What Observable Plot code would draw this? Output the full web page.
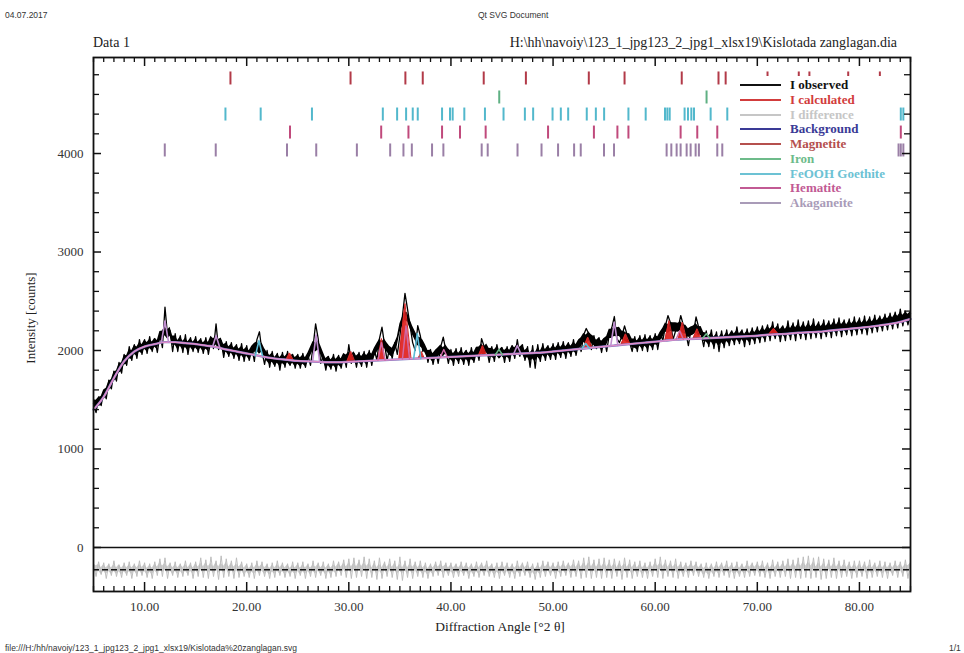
<!DOCTYPE html>
<html><head><meta charset="utf-8">
<script src="https://cdn.jsdelivr.net/npm/d3@7"></script>
<script src="https://cdn.jsdelivr.net/npm/@observablehq/plot@0.6"></script>
<style>
html,body{margin:0;padding:0;background:#fff;width:964px;height:653px;overflow:hidden;}
#wrap{position:relative;width:964px;height:653px;}
#chart{position:absolute;left:0;top:0;}
.t{position:absolute;white-space:nowrap;line-height:1;}
.sans{font-family:"Liberation Sans",Arial,sans-serif;color:#333;}
.serif{font-family:"Liberation Serif","Times New Roman",serif;color:#222;}
#legend{position:absolute;left:733px;top:76px;width:164px;height:139px;background:#fff;}
.li{position:absolute;left:0;height:14px;}
.li .ln{position:absolute;left:7px;top:6px;width:41px;height:2px;}
.li .tx{position:absolute;left:57px;top:0;font-family:"Liberation Serif",serif;font-size:13px;font-weight:bold;line-height:14px;white-space:nowrap;}
</style></head><body>
<div id="wrap">
<div id="chart"></div>
<div class="t sans" style="left:5px;top:11px;font-size:8.5px">04.07.2017</div>
<div class="t sans" style="left:478px;top:11px;font-size:8.5px">Qt SVG Document</div>
<div class="t serif" style="left:93px;top:36px;font-size:14px">Data 1</div>
<div class="t serif" style="right:67px;top:36px;font-size:14px">H:\hh\navoiy\123_1_jpg123_2_jpg1_xlsx19\Kislotada zanglagan.dia</div>
<div class="t serif" style="top:318px;font-size:13px;transform:translate(-50%,-50%) rotate(-90deg);transform-origin:50% 50%;left:30px;">Intensity [counts]</div>
<div class="t serif" style="left:500px;top:620px;font-size:13.5px;transform:translateX(-50%);">Diffraction Angle [°2 θ]</div>
<div class="t sans" style="left:5px;top:644px;font-size:8.5px">file:///H:/hh/navoiy/123_1_jpg123_2_jpg1_xlsx19/Kislotada%20zanglagan.svg</div>
<div class="t sans" style="left:949px;top:644px;font-size:8.5px">1/1</div>
<div id="legend"></div>
</div>
<script>
// ---------- DATA ----------
const observedStart = 5, observedStep = 0.25;
const observedCounts = [
1460,1370,1530,1440,1590,1510,1700,1610,1790,1690,1880,1770,1960,1850,2040,1900,2060,1920,2110,1960,
2110,1970,2140,1990,2120,1980,2160,2030,2440,2150,2200,1990,2170,1990,2150,1980,2160,1960,2130,1990,
2140,1980,2120,1970,2130,1960,2110,2020,2270,2010,2100,1930,2090,1940,2080,1920,2060,1900,2070,1890,
2050,1900,2030,1890,2110,2190,1990,1860,2000,1830,1990,1840,1970,1800,1980,1830,1990,1850,1960,1820,
1960,1820,1970,1830,1950,1850,2040,2270,2120,1870,1950,1800,1940,1810,1960,1790,1950,1820,1960,1830,
2060,1870,1970,1830,1980,1840,1990,1830,2000,1850,2010,1900,2120,2236,2060,1900,2030,1920,2080,1960,
2150,2350,2580,2420,2250,2080,2000,2253,2150,1990,2030,1880,2010,1860,2000,1870,2040,2135,2000,1870,
2010,1850,2020,1870,2030,1860,2000,1850,2030,1880,2010,1900,2121,2040,2020,1880,2040,1890,2060,1930,
2030,1880,2040,1890,2050,1920,2110,1940,2060,1900,2040,1830,2050,1820,2060,1890,2070,1900,2050,1910,
2070,1910,2080,1930,2090,1920,2080,1940,2110,1950,2090,1990,2160,2223,2170,2010,2150,2020,2130,1980,
2120,1990,2160,2230,2345,2120,2080,2150,2250,2160,2080,1990,2140,1990,2150,2000,2160,1990,2150,2010,
2170,2010,2180,2100,2250,2355,2280,2110,2200,2230,2355,2260,2180,2050,2210,2180,2340,2240,2170,2040,
2200,2040,2210,2020,2190,1990,2200,2030,2210,2050,2200,2060,2240,2070,2210,2040,2220,2060,2230,2070,
2240,2080,2250,2090,2260,2100,2290,2120,2270,2090,2250,2100,2300,2110,2280,2100,2310,2120,2290,2110,
2300,2120,2320,2130,2290,2120,2310,2140,2300,2130,2320,2150,2330,2140,2310,2160,2320,2150,2340,2160,
2330,2170,2350,2160,2340,2180,2360,2190,2350,2200,2370,2210,2380,2220,2390,2230,2420,2250,2400,2260,
2380];
const differenceCounts = [
60,-70,80,-50,70,-90,60,-60,90,-70,50,-80,70,-60,80,-90,60,-70,90,-60,
70,-80,60,-90,80,-60,110,-70,120,-90,70,-60,80,-80,60,-70,90,-60,70,-90,
80,-70,120,-80,100,-90,130,-70,90,-100,140,-80,110,-70,90,-90,120,-80,80,-70,
60,-80,70,-90,90,-60,80,-70,60,-90,70,-80,90,-60,70,-80,60,-70,80,-90,
70,-60,80,-90,60,-70,90,-80,70,-60,80,-90,60,-80,90,-70,80,-60,100,-80,
110,-90,120,-80,100,-70,130,-90,110,-80,90,-100,120,-90,80,-70,110,-80,90,-100,
130,-110,90,-80,110,-90,80,-70,90,-80,70,-90,60,-70,80,-60,90,-80,70,-60,
70,-80,60,-70,80,-60,70,-90,60,-70,80,-80,70,-60,90,-70,60,-80,70,-90,
80,-60,70,-80,60,-90,90,-70,70,-60,80,-80,60,-100,70,-80,90,-70,80,-60,
70,-90,80,-70,90,-60,70,-80,100,-70,90,-90,120,-80,130,-90,100,-80,110,-90,
120,-80,100,-90,110,-70,90,-100,120,-80,100,-90,80,-70,90,-80,70,-90,80,-70,
110,-80,130,-90,100,-70,90,-80,110,-90,80,-70,70,-80,90,-60,80,-70,60,-80,
70,-90,60,-70,80,-80,70,-60,90,-80,70,-90,80,-70,60,-80,90,-70,70,-60,
80,-70,90,-80,70,-90,100,-70,80,-80,90,-70,110,-90,100,-80,120,-90,130,-80,
140,-90,120,-80,130,-100,110,-90,100,-80,120,-90,90,-80,100,-70,80,-90,90,-80,
90,-70,80,-90,100,-80,70,-70,90,-80,80,-90,70,-60,90,-80,80,-70,100,-90,
80];
const DIFF_ZERO = -225;

const backgroundStart = 5;
const backgroundCounts = [
1400,1530,1720,1890,1990,2040,2065,2085,2085,2075,2065,2050,2035,2010,1990,1970,1950,1930,1915,1905,
1895,1890,1885,1880,1880,1885,1890,1895,1900,1905,1910,1915,1920,1925,1930,1935,1940,1945,1950,1955,
1960,1965,1970,1975,1980,1990,2000,2010,2020,2030,2040,2050,2060,2070,2080,2090,2100,2110,2115,2120,
2125,2130,2135,2140,2145,2150,2160,2165,2170,2180,2185,2190,2200,2210,2220,2230,2240,2255,2270,2290,
2320];

// calculated (filled red) peaks
const calcPeakAngle = [24.2, 30.2, 33.2, 35.5, 37.1, 43.1, 53.4, 57.1, 61.35, 62.66, 64.1, 71.6];
const calcPeakTop   = [1975, 1990, 2121, 2477, 1990, 2050, 2135, 2169, 2304, 2287, 2220, 2223];
const calcPeakBase  = [1905, 1886, 1900, 1912, 1920, 1950, 2024, 2061, 2103, 2116, 2120, 2162];
const calcPeakHalfWidth = [0.35, 0.4, 0.35, 0.6, 0.3, 0.4, 0.45, 0.45, 0.4, 0.4, 0.4, 0.5];

// phase profile peaks
const akaganeitePeakAngle = [12.0, 17.0, 26.8, 46.5, 56.0];
const akaganeitePeakTop   = [2300, 2150, 2160, 2050, 2287];
const akaganeitePeakBase  = [2085, 2035, 1885, 1967, 2050];
const goethitePeakAngle = [21.2, 36.7, 53.2];
const goethitePeakTop   = [2100, 2172, 2070];
const goethitePeakBase  = [1948, 1918, 2022];
const hematitePeakAngle = [33.2, 35.6, 39.3, 62.4];
const hematitePeakTop   = [2080, 2250, 2010, 2200];
const hematitePeakBase  = [1900, 1912, 1930, 2114];
const ironPeakAngle = [44.7, 65.0];
const ironPeakTop   = [2010, 2170];
const ironPeakBase  = [1957, 2125];
const phasePeakHalfWidth = 0.35;

// reflection positions (°2θ)
const magnetiteRefl = [18.41, 30.17, 35.54, 37.24, 43.21, 47.34, 53.5, 57.0, 62.6, 66.2, 66.9, 71.0, 74.06, 75.1, 78.9, 82.0];
const ironRefl = [44.73, 65.03];
const goethiteRefl = [17.92, 21.37, 26.39, 33.33, 34.73, 35.61, 36.26, 36.75, 39.13, 39.91, 40.17, 41.31, 43.33, 45.15, 47.24, 48.05, 49.95, 50.76, 51.48, 53.3, 54.19, 55.0, 57.38, 59.07, 60.96, 61.19, 61.42, 62.88, 63.21, 63.54, 63.8, 65.43, 67.06, 84.05, 84.3];
const hematiteRefl = [24.24, 33.17, 35.84, 39.13, 40.89, 43.4, 49.51, 54.0, 56.3, 57.38, 62.49, 64.12, 66.08, 84.05];
const akaganeiteRefl = [11.98, 16.97, 23.95, 26.81, 30.79, 34.05, 35.35, 36.17, 38.15, 39.26, 43.01, 43.6, 46.52, 48.87, 50.49, 52.06, 52.71, 54.99, 55.97, 61.12, 61.58, 62.1, 62.49, 63.08, 63.47, 63.96, 64.28, 66.08, 66.57, 83.83, 84.05, 84.3];
const reflectionLevels = [4762, 4569, 4396, 4213, 4031];

const xTickLabels = [10, 20, 30, 40, 50, 60, 70, 80];
const yTickLabels = [0, 1000, 2000, 3000, 4000];

const legendLabels = ["I observed","I calculated","I difference","Background","Magnetite","Iron","FeOOH  Goethite","Hematite","Akaganeite"];
const legendColors = ["#111111","#d23c3c","#c6c6c6","#3a3a96","#b5504e","#6dbb8a","#6cc2d4","#c25a94","#a99bb8"];

// ---------- BUILD ----------
const W = 964, H = 653, mL = 93, mR = 54, mT = 57, mB = 62;
const fw = W - mL - mR, fh = H - mT - mB;

// core band half-thickness (counts) used to thicken the noisy traces
function band(values, offset, half) {
  return values.map((c, i) => {
    const m = d3.mean(values.slice(Math.max(0, i - 2), i + 3));
    return {angle: observedStart + i * observedStep, counts: offset + c, lo: offset + m - half, hi: offset + m + half};
  });
}
const obs = band(observedCounts, 0, 46);
const diff = band(differenceCounts, DIFF_ZERO, 34);
const bg = backgroundCounts.map((c, i) => ({angle: backgroundStart + i, counts: c}));

function peaks(pos, top, base, hw, key) {
  return pos.flatMap((p, i) => {
    const w = Array.isArray(hw) ? hw[i] : hw;
    return [
      {id: key + i, angle: p - w, counts: base[i], base: base[i]},
      {id: key + i, angle: p, counts: top[i], base: base[i]},
      {id: key + i, angle: p + w, counts: base[i], base: base[i]}
    ];
  });
}
const calc = peaks(calcPeakAngle, calcPeakTop, calcPeakBase, calcPeakHalfWidth, "c");
const akag = peaks(akaganeitePeakAngle, akaganeitePeakTop, akaganeitePeakBase, phasePeakHalfWidth, "a");
const goet = peaks(goethitePeakAngle, goethitePeakTop, goethitePeakBase, phasePeakHalfWidth, "g");
const hema = peaks(hematitePeakAngle, hematitePeakTop, hematitePeakBase, phasePeakHalfWidth, "h");
const iron = peaks(ironPeakAngle, ironPeakTop, ironPeakBase, phasePeakHalfWidth, "i");

const reflColors = ["#b23a48", "#5fb083", "#52b8cc", "#c04a7c", "#9a7fa6"];
const refl = [magnetiteRefl, ironRefl, goethiteRefl, hematiteRefl, akaganeiteRefl]
  .flatMap((arr, k) => arr.map(a => ({angle: a, level: reflectionLevels[k], phase: k})));

const xMinor = d3.range(5, 86, 1).filter(v => v % 10 !== 0);
const yMinor = d3.range(0, 4801, 200).filter(v => v % 1000 !== 0);

const chart = Plot.plot({
  width: W, height: H,
  marginLeft: mL, marginRight: mR, marginTop: mT, marginBottom: mB,
  style: {fontFamily: "'Liberation Serif', 'Times New Roman', serif", fontSize: "13px", color: "#333", background: "transparent"},
  x: {domain: [5, 85], axis: null},
  y: {domain: [-447, 4975], axis: null},
  marks: [
    Plot.ruleX(refl, {x: "angle", y1: d => d.level - 66, y2: d => d.level + 66, stroke: d => reflColors[d.phase], strokeWidth: 2}),
    Plot.areaY(obs, {x: "angle", y1: "lo", y2: "hi", fill: "#000"}),
    Plot.line(obs, {x: "angle", y: "counts", stroke: "#000", strokeWidth: 1.3}),
    Plot.areaY(calc, {x: "angle", y1: "base", y2: "counts", z: "id", fill: "#e0201c", fillOpacity: 0.92}),
    Plot.line(calc, {x: "angle", y: "counts", z: "id", stroke: "#d42a2a", strokeWidth: 1}),
    Plot.line(bg, {x: "angle", y: "counts", stroke: "#7a78c0", strokeWidth: 2.4, curve: "monotone-x"}),
    Plot.line(bg, {x: "angle", y: "counts", stroke: "#e08cc8", strokeWidth: 1.5, curve: "monotone-x"}),
    Plot.line(akag, {x: "angle", y: "counts", z: "id", stroke: "#c08ed0", strokeWidth: 1.6}),
    Plot.line(goet, {x: "angle", y: "counts", z: "id", stroke: "#5cbcd6", strokeWidth: 1.6}),
    Plot.line(hema, {x: "angle", y: "counts", z: "id", stroke: "#d06aa8", strokeWidth: 1.4}),
    Plot.line(iron, {x: "angle", y: "counts", z: "id", stroke: "#6dbb8a", strokeWidth: 1.4}),
    Plot.areaY(diff, {x: "angle", y1: "lo", y2: "hi", fill: "#cdcdcd"}),
    Plot.line(diff, {x: "angle", y: "counts", stroke: "#bdbdbd", strokeWidth: 1}),
    Plot.ruleY([0], {stroke: "#111", strokeWidth: 1.5}),
    Plot.ruleY([DIFF_ZERO], {stroke: "#111", strokeWidth: 1.5, strokeDasharray: "6,3"}),
    // ticks (inward)
    Plot.tickX(xMinor, {x: d => d, insetTop: fh - 5, stroke: "#111", strokeWidth: 1.3}),
    Plot.tickX(xTickLabels, {x: d => d, insetTop: fh - 9, stroke: "#111", strokeWidth: 1.5}),
    Plot.tickX(xMinor, {x: d => d, insetBottom: fh - 5, stroke: "#111", strokeWidth: 1.3}),
    Plot.tickX(xTickLabels, {x: d => d, insetBottom: fh - 9, stroke: "#111", strokeWidth: 1.5}),
    Plot.tickY(yMinor, {y: d => d, insetRight: fw - 6, stroke: "#111", strokeWidth: 1.3}),
    Plot.tickY(yTickLabels, {y: d => d, insetRight: fw - 8, stroke: "#111", strokeWidth: 1.5}),
    Plot.tickY(yMinor, {y: d => d, insetLeft: fw - 6, stroke: "#111", strokeWidth: 1.3}),
    Plot.tickY(yTickLabels, {y: d => d, insetLeft: fw - 8, stroke: "#111", strokeWidth: 1.5}),
    Plot.axisX(xTickLabels, {tickSize: 0, tickPadding: 10, tickFormat: d => d.toFixed(2), label: null, fontSize: 13}),
    Plot.axisY(yTickLabels, {tickSize: 0, tickPadding: 10, tickFormat: d => String(d), label: null, fontSize: 13}),
    Plot.frame({stroke: "#111", strokeWidth: 1.8})
  ]
});
document.getElementById("chart").appendChild(chart);

const lg = document.getElementById("legend");
legendLabels.forEach((lab, i) => {
  const row = document.createElement("div");
  row.className = "li";
  row.style.top = (2 + i * 14.75) + "px";
  row.innerHTML = `<div class="ln" style="background:${legendColors[i]}"></div><div class="tx" style="color:${legendColors[i]}">${lab}</div>`;
  lg.appendChild(row);
});
</script>
</body></html>
